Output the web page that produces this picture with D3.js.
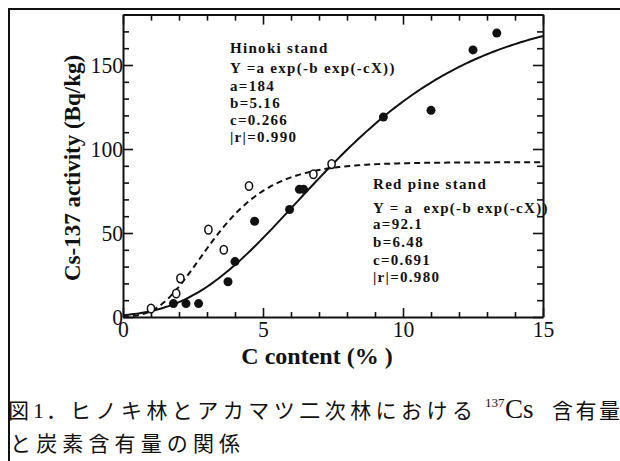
<!DOCTYPE html>
<html>
<head>
<meta charset="utf-8">
<script src="https://cdn.jsdelivr.net/npm/d3@7"></script>
<style>
  body { margin: 0; background: #fff; }
  svg { display: block; }
  .serif { font-family: "Liberation Serif", "Times New Roman", Times, "DejaVu Serif", serif; }
  .cjk { font-family: "Noto Sans CJK JP", "Noto Sans CJK SC", sans-serif; }
</style>
</head>
<body>
<svg id="chart" width="620" height="461"></svg>
<script>
// Hinoki stand (filled circles)
const hinokiX = [1.8, 2.25, 2.7, 3.75, 4.0, 4.7, 5.95, 6.3, 6.45, 9.3, 11.0, 12.5, 13.35]
const hinokiY = [8, 8, 8, 21, 33, 57, 64, 76, 76, 119, 123, 159, 169]
// Red pine stand (open circles)
const pineX = [1.0, 1.9, 2.05, 3.05, 3.6, 4.5, 6.8, 7.45]
const pineY = [5, 14, 23, 52, 40, 78, 85, 91]

// fitted Gompertz parameters shown on the chart
const hinokiFit = { a: 184, b: 5.16, c: 0.266 }
const pineFit = { a: 92.1, b: 6.48, c: 0.691 }

const hinokiText = ['Hinoki stand', 'Y =a exp(-b exp(-cX))', 'a=184', 'b=5.16', 'c=0.266', '|r|=0.990']
const pineText = ['Red pine stand', 'Y = a  exp(-b exp(-cX))', 'a=92.1', 'b=6.48', 'c=0.691', '|r|=0.980']

const xMajor = [0, 5, 10, 15]
const yMajor = [0, 50, 100, 150]

const svg = d3.select('#chart')

// outer frame (top and left only)
svg.append('line').attr('x1', 8).attr('x2', 620).attr('y1', 9).attr('y2', 9)
  .attr('stroke', '#111').attr('stroke-width', 2)
svg.append('line').attr('x1', 9).attr('x2', 9).attr('y1', 8).attr('y2', 461)
  .attr('stroke', '#111').attr('stroke-width', 2)

const x = d3.scaleLinear().domain([0, 15]).range([123, 543])
const y = d3.scaleLinear().domain([0, 180]).range([317, 14.6])

const xMinor = d3.range(0, 16).filter(v => !xMajor.includes(v))
const yMinor = d3.range(0, 181, 10).filter(v => !yMajor.includes(v))

function styleAxis (g, labels) {
  g.attr('font-family', null).attr('font-size', null)
  g.select('.domain').attr('stroke-width', 2).attr('stroke', '#111')
  g.selectAll('.tick line').attr('stroke-width', 1.6).attr('stroke', '#111')
  if (labels) {
    g.selectAll('.tick text')
      .attr('class', 'serif')
      .style('font-size', '24px')
      .attr('fill', '#111')
      .attr('textLength', d => String(d).length * 10.8)
      .attr('lengthAdjust', 'spacingAndGlyphs')
  } else {
    g.selectAll('.tick text').remove()
  }
}

// bottom
svg.append('g').attr('transform', `translate(0,${y(0)})`)
  .call(d3.axisBottom(x).tickValues(xMinor).tickSize(-5).tickSizeOuter(0))
  .call(g => { g.select('.domain').remove(); styleAxis(g, false) })
svg.append('g').attr('transform', `translate(0,${y(0)})`)
  .call(d3.axisBottom(x).tickValues(xMajor).tickSize(-9).tickSizeOuter(0).tickPadding(3).tickFormat(d3.format('d')))
  .call(g => styleAxis(g, true))

// top
svg.append('g').attr('transform', `translate(0,${y(180)})`)
  .call(d3.axisTop(x).tickValues(xMinor).tickSize(-6).tickSizeOuter(0))
  .call(g => { g.select('.domain').remove(); styleAxis(g, false) })
svg.append('g').attr('transform', `translate(0,${y(180)})`)
  .call(d3.axisTop(x).tickValues(xMajor).tickSize(-10).tickSizeOuter(0))
  .call(g => styleAxis(g, false))

// left
svg.append('g').attr('transform', `translate(${x(0)},0)`)
  .call(d3.axisLeft(y).tickValues(yMinor).tickSize(-6).tickSizeOuter(0))
  .call(g => { g.select('.domain').remove(); styleAxis(g, false) })
svg.append('g').attr('transform', `translate(${x(0)},0)`)
  .call(d3.axisLeft(y).tickValues(yMajor).tickSize(-10).tickSizeOuter(0).tickPadding(0).tickFormat(d3.format('d')))
  .call(g => styleAxis(g, true))

// right
svg.append('g').attr('transform', `translate(${x(15)},0)`)
  .call(d3.axisRight(y).tickValues(yMinor).tickSize(-6).tickSizeOuter(0))
  .call(g => { g.select('.domain').remove(); styleAxis(g, false) })
svg.append('g').attr('transform', `translate(${x(15)},0)`)
  .call(d3.axisRight(y).tickValues(yMajor).tickSize(-10).tickSizeOuter(0))
  .call(g => styleAxis(g, false))

// fitted curves
const gompertz = p => X => p.a * Math.exp(-p.b * Math.exp(-p.c * X))
const xs = d3.range(0, 15.001, 0.1)
const line = d3.line().x(d => x(d[0])).y(d => y(d[1]))

svg.append('path')
  .datum(xs.map(v => [v, gompertz(pineFit)(v)]))
  .attr('d', line)
  .attr('fill', 'none')
  .attr('stroke', '#111')
  .attr('stroke-width', 2)
  .attr('stroke-dasharray', '6,4')

svg.append('path')
  .datum(xs.map(v => [v, gompertz(hinokiFit)(v)]))
  .attr('d', line)
  .attr('fill', 'none')
  .attr('stroke', '#111')
  .attr('stroke-width', 2)

// points
svg.append('g').selectAll('ellipse')
  .data(pineX.map((v, i) => [v, pineY[i]]))
  .join('ellipse')
  .attr('cx', d => x(d[0]))
  .attr('cy', d => y(d[1]))
  .attr('rx', 3.6)
  .attr('ry', 4.3)
  .attr('fill', '#fff')
  .attr('stroke', '#111')
  .attr('stroke-width', 1.5)

svg.append('g').selectAll('circle')
  .data(hinokiX.map((v, i) => [v, hinokiY[i]]))
  .join('circle')
  .attr('cx', d => x(d[0]))
  .attr('cy', d => y(d[1]))
  .attr('r', 4.5)
  .attr('fill', '#111')

// annotations
function annot (lines, x0, ys) {
  svg.append('g').selectAll('text')
    .data(lines)
    .join('text')
    .attr('class', 'serif')
    .attr('x', x0)
    .attr('y', (d, i) => ys[i])
    .style('font-weight', 'bold')
    .style('font-size', '15px')
    .style('letter-spacing', '1.3px')
    .style('white-space', 'pre')
    .attr('fill', '#111')
    .text(d => d)
}
annot(hinokiText, 230, [53, 73, 91, 108, 125, 142])
annot(pineText, 373, [189, 213, 229, 247, 265, 282])

// axis titles
svg.append('text')
  .attr('class', 'serif')
  .attr('transform', 'translate(80,168) rotate(-90)')
  .attr('text-anchor', 'middle')
  .style('font-weight', 'bold')
  .style('font-size', '23px')
  .attr('fill', '#111')
  .text('Cs-137 activity (Bq/kg)')

svg.append('text')
  .attr('class', 'serif')
  .attr('x', 317)
  .attr('y', 364)
  .attr('text-anchor', 'middle')
  .style('font-weight', 'bold')
  .style('font-size', '24px')
  .style('white-space', 'pre')
  .attr('fill', '#111')
  .text('C content (% )')

// caption
const cap = svg.append('g').attr('fill', '#111')
const capText = (cls, xx, yy, size, s, len) => {
  const t = cap.append('text').attr('class', cls).attr('x', xx).attr('y', yy)
    .style('font-size', size + 'px').text(s)
  if (len) t.attr('textLength', len).attr('lengthAdjust', 'spacing')
  return t
}
capText('cjk', 8, 418, 21, '図')
capText('serif', 33, 418, 22, '1')
capText('cjk', 46, 418, 21, '．')
capText('cjk', 70, 418, 21, 'ヒノキ林とアカマツ二次林における', 403)
capText('serif', 485, 407, 13, '137')
capText('serif', 505, 418, 27, 'Cs')
capText('cjk', 552, 418, 21, '含有量', 68)
capText('cjk', 10, 451, 21, 'と炭素含有量の関係', 230)
</script>
</body>
</html>
